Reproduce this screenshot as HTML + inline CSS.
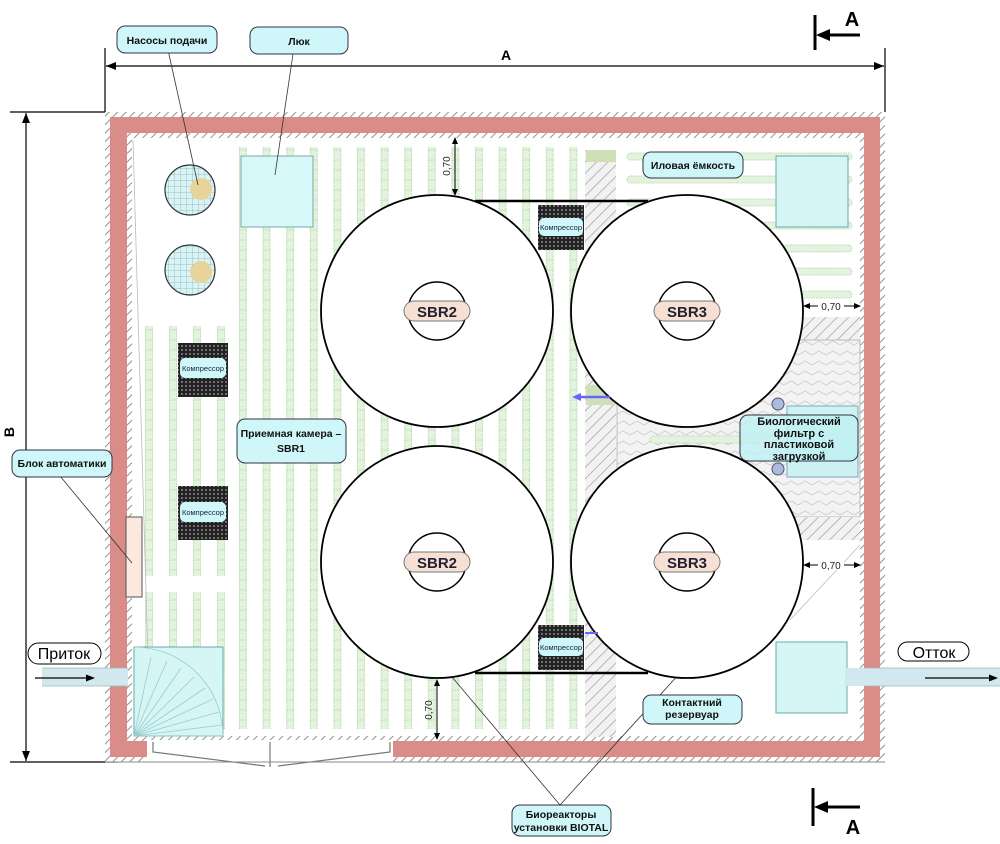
<!DOCTYPE html>
<html><head><meta charset="utf-8"><style>
html,body{margin:0;padding:0;background:#fff}
svg{display:block}
text{font-family:"Liberation Sans",sans-serif}
</style></head><body>
<svg width="1000" height="844" viewBox="0 0 1000 844" xmlns="http://www.w3.org/2000/svg">
<defs>
<pattern id="hatch" width="6" height="6" patternUnits="userSpaceOnUse" patternTransform="rotate(45)">
<rect width="6" height="6" fill="#fff"/><line x1="0" y1="0" x2="0" y2="6" stroke="#777" stroke-width="1.6"/></pattern>
<pattern id="hatch2" width="8" height="8" patternUnits="userSpaceOnUse" patternTransform="rotate(45)">
<rect width="8" height="8" fill="#f2f2f2"/><line x1="0" y1="0" x2="0" y2="8" stroke="#999" stroke-width="1.3"/></pattern>
<pattern id="vstripe" x="239" y="0" width="23.6" height="10" patternUnits="userSpaceOnUse">
<rect x="0.5" y="0" width="7" height="10" fill="#e4f3de" stroke="#a8d4a0" stroke-width="0.8" stroke-dasharray="1.5 1"/></pattern>
<pattern id="vstripeL" x="145" y="0" width="24" height="10" patternUnits="userSpaceOnUse">
<rect x="0.5" y="0" width="7" height="10" fill="#e4f3de" stroke="#a8d4a0" stroke-width="0.8" stroke-dasharray="1.5 1"/></pattern>
<pattern id="grid" width="6" height="6" patternUnits="userSpaceOnUse">
<rect width="6" height="6" fill="#d8f4f4"/><path d="M0 0H6M0 0V6" stroke="#8ab" stroke-width="0.7"/></pattern>
<pattern id="dots" width="4" height="4" patternUnits="userSpaceOnUse">
<rect width="4" height="4" fill="#222"/><circle cx="2" cy="2" r="1" fill="#888"/></pattern>
<pattern id="zig" width="14" height="10" patternUnits="userSpaceOnUse">
<rect width="14" height="10" fill="#f3f3f3"/><path d="M0 5L7 1L14 5" fill="none" stroke="#ccc" stroke-width="0.8"/></pattern>
</defs>

<!-- dimension A -->
<line x1="105" y1="48" x2="105" y2="112" stroke="#000" stroke-width="1.2"/>
<line x1="885" y1="48" x2="885" y2="112" stroke="#000" stroke-width="1.2"/>
<line x1="106" y1="66" x2="884" y2="66" stroke="#000" stroke-width="1.2"/>
<path d="M106 66l10-4v8z M884 66l-10-4v8z" fill="#000"/>
<text x="506" y="60" font-size="14" font-weight="bold" text-anchor="middle">A</text>
<!-- dimension B -->
<line x1="10" y1="112" x2="105" y2="112" stroke="#000" stroke-width="1.2"/>
<line x1="10" y1="762" x2="118" y2="762" stroke="#000" stroke-width="1.2"/>
<line x1="26" y1="113" x2="26" y2="761" stroke="#000" stroke-width="1.2"/>
<path d="M26 113l-4 10h8z M26 761l-4-10h8z" fill="#000"/>
<text x="14" y="432" font-size="14" font-weight="bold" text-anchor="middle" transform="rotate(-90 14 432)">B</text>

<!-- walls -->
<rect x="105" y="112" width="780" height="650" fill="url(#hatch)"/>
<rect x="110" y="117" width="770" height="640" fill="#d98c88"/>
<rect x="127" y="133" width="737" height="608" fill="url(#hatch)"/>
<rect x="132" y="138" width="728" height="598" fill="#fff"/>
<!-- door gap -->
<rect x="147" y="740" width="246" height="23" fill="#fff"/>
<path d="M153 742v10l112 14 M390 742v10l-112 14 M270 742v25" stroke="#777" fill="none" stroke-width="1.2"/>
<line x1="105" y1="762" x2="885" y2="762" stroke="#888" stroke-width="1"/>

<!-- stripes -->
<rect x="239" y="147" width="345" height="582" fill="url(#vstripe)"/>
<rect x="145" y="326" width="84" height="250" fill="url(#vstripeL)"/>
<rect x="145" y="592" width="84" height="137" fill="url(#vstripeL)"/>
<line x1="133" y1="140" x2="150" y2="730" stroke="#bbb" stroke-width="0.8"/>
<!-- hatch column -->
<rect x="585" y="150" width="31" height="587" fill="url(#hatch2)"/>
<rect x="586" y="150" width="30" height="12" fill="#cfe0b8"/>
<rect x="586" y="385" width="30" height="20" fill="#cfe0b8"/>
<!-- right area -->
<g fill="#e4f3de" stroke="#a8d4a0" stroke-width="0.8" stroke-dasharray="1.5 1">
<rect x="627" y="153" width="225" height="7" rx="3.5"/>
<rect x="627" y="176" width="225" height="7" rx="3.5"/>
<rect x="627" y="199" width="225" height="7" rx="3.5"/>
<rect x="627" y="222" width="225" height="7" rx="3.5"/>
<rect x="627" y="245" width="225" height="7" rx="3.5"/>
<rect x="627" y="268" width="225" height="7" rx="3.5"/>
<rect x="627" y="291" width="225" height="7" rx="3.5"/>
</g>
<rect x="776" y="156" width="72" height="71" fill="#d6f6f6" stroke="#6aa" stroke-width="1"/>
<rect x="617" y="317" width="243" height="23" fill="url(#hatch2)"/>
<rect x="617" y="340" width="243" height="177" fill="url(#zig)" stroke="#bbb"/>
<rect x="617" y="517" width="243" height="23" fill="url(#hatch2)"/>
<rect x="650" y="436" width="160" height="7" rx="3.5" fill="#e4f3de" stroke="#a8d4a0" stroke-width="0.8" stroke-dasharray="1.5 1"/>
<rect x="787" y="406" width="71" height="71" fill="#ccf2f4" stroke="#7ab" stroke-width="1"/>

<!-- pumps, hatch, stair -->
<circle cx="190" cy="190" r="25" fill="url(#grid)" stroke="#333" stroke-width="1.2"/>
<circle cx="201" cy="189" r="11" fill="#e6d49a"/>
<circle cx="190" cy="270" r="25" fill="url(#grid)" stroke="#333" stroke-width="1.2"/>
<circle cx="201" cy="272" r="11" fill="#e6d49a"/>
<rect x="241" y="156" width="72" height="71" fill="#d6f8f8" stroke="#7aa" stroke-width="1"/>
<rect x="134" y="647" width="89" height="89" fill="#d6f6f6" stroke="#6aa" stroke-width="1"/>
<path d="M134 736L223 736 M134 736L222 725 M134 736L219 712 M134 736L213 699 M134 736L205 688 M134 736L194 677 M134 736L181 668 M134 736L167 661 M134 736L151 657 M134 647 A89 89 0 0 1 223 736" stroke="#9cc" fill="none" stroke-width="0.8"/>
<rect x="776" y="642" width="71" height="71" fill="#d6f6f6" stroke="#6aa" stroke-width="1"/>
<rect x="126" y="517" width="16" height="80" fill="#fbe9df" stroke="#555" stroke-width="1"/>

<!-- pipes -->
<rect x="42" y="668" width="86" height="18" fill="#d2e8ee"/>
<line x1="42" y1="668" x2="128" y2="668" stroke="#9bb" stroke-width="0.8"/><line x1="42" y1="686" x2="128" y2="686" stroke="#9bb" stroke-width="0.8"/>
<line x1="35" y1="678" x2="92" y2="678" stroke="#000" stroke-width="1.3"/><path d="M95 678l-9-3.5v7z" fill="#000"/>
<rect x="845" y="668" width="155" height="18" fill="#d2e8ee"/>
<line x1="865" y1="668" x2="1000" y2="668" stroke="#9bb" stroke-width="0.8"/><line x1="865" y1="686" x2="1000" y2="686" stroke="#9bb" stroke-width="0.8"/>
<line x1="925" y1="678" x2="990" y2="678" stroke="#000" stroke-width="1.3"/><path d="M998 678l-9-3.5v7z" fill="#000"/>

<!-- leader lines behind circles -->
<g stroke="#333" stroke-width="0.8" fill="none">
<line x1="168" y1="50" x2="198" y2="185"/>
<line x1="293" y1="54" x2="275" y2="175"/>
<line x1="60" y1="476" x2="132" y2="563"/>
<line x1="560" y1="805" x2="425" y2="645"/>
<line x1="560" y1="805" x2="690" y2="662"/>
<line x1="600" y1="260" x2="580" y2="290" stroke="#bbb"/>
<line x1="860" y1="545" x2="790" y2="620" stroke="#bbb"/>
</g>

<!-- circles -->
<g stroke="#000" stroke-width="1.8" fill="#fff">
<circle cx="437" cy="311" r="116"/><circle cx="687" cy="311" r="116"/>
<circle cx="437" cy="562" r="116"/><circle cx="687" cy="562" r="116"/>
</g>
<line x1="475" y1="201" x2="648" y2="201" stroke="#000" stroke-width="2.5"/>
<line x1="475" y1="673" x2="648" y2="673" stroke="#000" stroke-width="2.5"/>
<g stroke="#000" stroke-width="1.5" fill="#fff">
<circle cx="437" cy="311" r="29"/><circle cx="687" cy="311" r="29"/>
<circle cx="437" cy="562" r="29"/><circle cx="687" cy="562" r="29"/>
</g>
<g fill="#f6e0d4" stroke="#777" stroke-width="1">
<rect x="404" y="301" width="66" height="20" rx="10"/><rect x="654" y="301" width="66" height="20" rx="10"/>
<rect x="404" y="552" width="66" height="20" rx="10"/><rect x="654" y="552" width="66" height="20" rx="10"/>
</g>
<g font-size="15" font-weight="bold" fill="#223" text-anchor="middle">
<text x="437" y="317">SBR2</text><text x="687" y="317">SBR3</text>
<text x="437" y="568">SBR2</text><text x="687" y="568">SBR3</text>
</g>
<!-- filter nozzles -->
<circle cx="778" cy="404" r="6" fill="#aabbdd" stroke="#557" stroke-width="1"/>
<circle cx="778" cy="469" r="6" fill="#aabbdd" stroke="#557" stroke-width="1"/>
<line x1="610" y1="397" x2="578" y2="397" stroke="#66f" stroke-width="2.5"/><path d="M572 397l9-4v8z" fill="#66f"/>
<line x1="585" y1="633" x2="598" y2="633" stroke="#66f" stroke-width="2"/>

<!-- compressors -->
<g>
<rect x="538" y="205" width="46" height="45" fill="url(#dots)"/>
<rect x="539" y="218" width="44" height="18" rx="5" fill="#cff6f8"/>
<rect x="178" y="343" width="50" height="54" fill="url(#dots)"/>
<rect x="180" y="358" width="46" height="20" rx="5" fill="#cff6f8"/>
<rect x="178" y="486" width="50" height="54" fill="url(#dots)"/>
<rect x="180" y="502" width="46" height="20" rx="5" fill="#cff6f8"/>
<rect x="538" y="625" width="46" height="45" fill="url(#dots)"/>
<rect x="539" y="638" width="44" height="18" rx="5" fill="#cff6f8"/>
</g>
<g font-size="7.5" fill="#123" text-anchor="middle">
<text x="561" y="230">Компрессор</text><text x="203" y="371">Компрессор</text>
<text x="203" y="515">Компрессор</text><text x="561" y="650">Компрессор</text>
</g>

<!-- 0.70 dimensions -->
<g stroke="#000" stroke-width="1" fill="none">
<line x1="455" y1="138" x2="455" y2="195"/>
<line x1="437" y1="680" x2="437" y2="739"/>
<line x1="804" y1="306" x2="860" y2="306"/>
<line x1="804" y1="565" x2="860" y2="565"/>
</g>
<path d="M455 137l-3 7h6z M455 196l-3-7h6z M437 679l-3 7h6z M437 740l-3-7h6z M803 306l7-3v6z M861 306l-7-3v6z M803 565l7-3v6z M861 565l-7-3v6z" fill="#000"/>
<rect x="818" y="299" width="26" height="12" fill="#fff"/><rect x="818" y="558" width="26" height="12" fill="#fff"/>
<g font-size="10" fill="#222">
<text x="831" y="310" text-anchor="middle">0,70</text>
<text x="831" y="569" text-anchor="middle">0,70</text>
<text x="450" y="166" text-anchor="middle" transform="rotate(-90 450 166)">0,70</text>
<text x="432" y="710" text-anchor="middle" transform="rotate(-90 432 710)">0,70</text>
</g>

<!-- callout labels -->
<g fill="#cff6f8" stroke="#334" stroke-width="1">
<rect x="117" y="26" width="100" height="27" rx="8"/>
<rect x="250" y="27" width="98" height="27" rx="8"/>
<rect x="643" y="152" width="100" height="26" rx="8"/>
<rect x="237" y="419" width="109" height="44" rx="8"/>
<rect x="12" y="450" width="100" height="27" rx="8"/>
<rect x="740" y="415" width="118" height="46" rx="8" fill="#bff0f2" fill-opacity="0.8"/>
<rect x="643" y="695" width="99" height="29" rx="8"/>
<rect x="512" y="805" width="99" height="31" rx="8"/>
</g>
<g font-size="10.5" font-weight="bold" fill="#111" text-anchor="middle">
<text x="167" y="44">Насосы подачи</text>
<text x="299" y="45">Люк</text>
<text x="693" y="169">Иловая ёмкость</text>
<text x="291" y="437">Приемная камера –</text>
<text x="291" y="452">SBR1</text>
<text x="62" y="467">Блок автоматики</text>
<text x="799" y="425" font-size="11">Биологический</text>
<text x="799" y="437" font-size="11">фильтр с</text>
<text x="799" y="448" font-size="11">пластиковой</text>
<text x="799" y="460" font-size="11">загрузкой</text>
<text x="692" y="706">Контактний</text>
<text x="692" y="718">резервуар</text>
<text x="561" y="818">Биореакторы</text>
<text x="561" y="831">установки BIOTAL</text>
</g>
<rect x="28" y="643" width="73" height="21" rx="10.5" fill="#fff" stroke="#000" stroke-width="1"/>
<text x="64" y="659" font-size="16" text-anchor="middle">Приток</text>
<rect x="898" y="642" width="71" height="19" rx="9.5" fill="#fff" stroke="#000" stroke-width="1"/>
<text x="934" y="658" font-size="16" text-anchor="middle">Отток</text>

<!-- section A markers -->
<line x1="815" y1="15" x2="815" y2="50" stroke="#000" stroke-width="3"/>
<line x1="822" y1="35" x2="860" y2="35" stroke="#000" stroke-width="3"/><path d="M816 35l14-6v12z" fill="#000"/>
<text x="852" y="26" font-size="20" font-weight="bold" text-anchor="middle">A</text>
<line x1="813" y1="788" x2="813" y2="826" stroke="#000" stroke-width="3"/>
<line x1="820" y1="807" x2="860" y2="807" stroke="#000" stroke-width="3"/><path d="M814 807l14-6v12z" fill="#000"/>
<text x="853" y="834" font-size="20" font-weight="bold" text-anchor="middle">A</text>
</svg>
</body></html>
